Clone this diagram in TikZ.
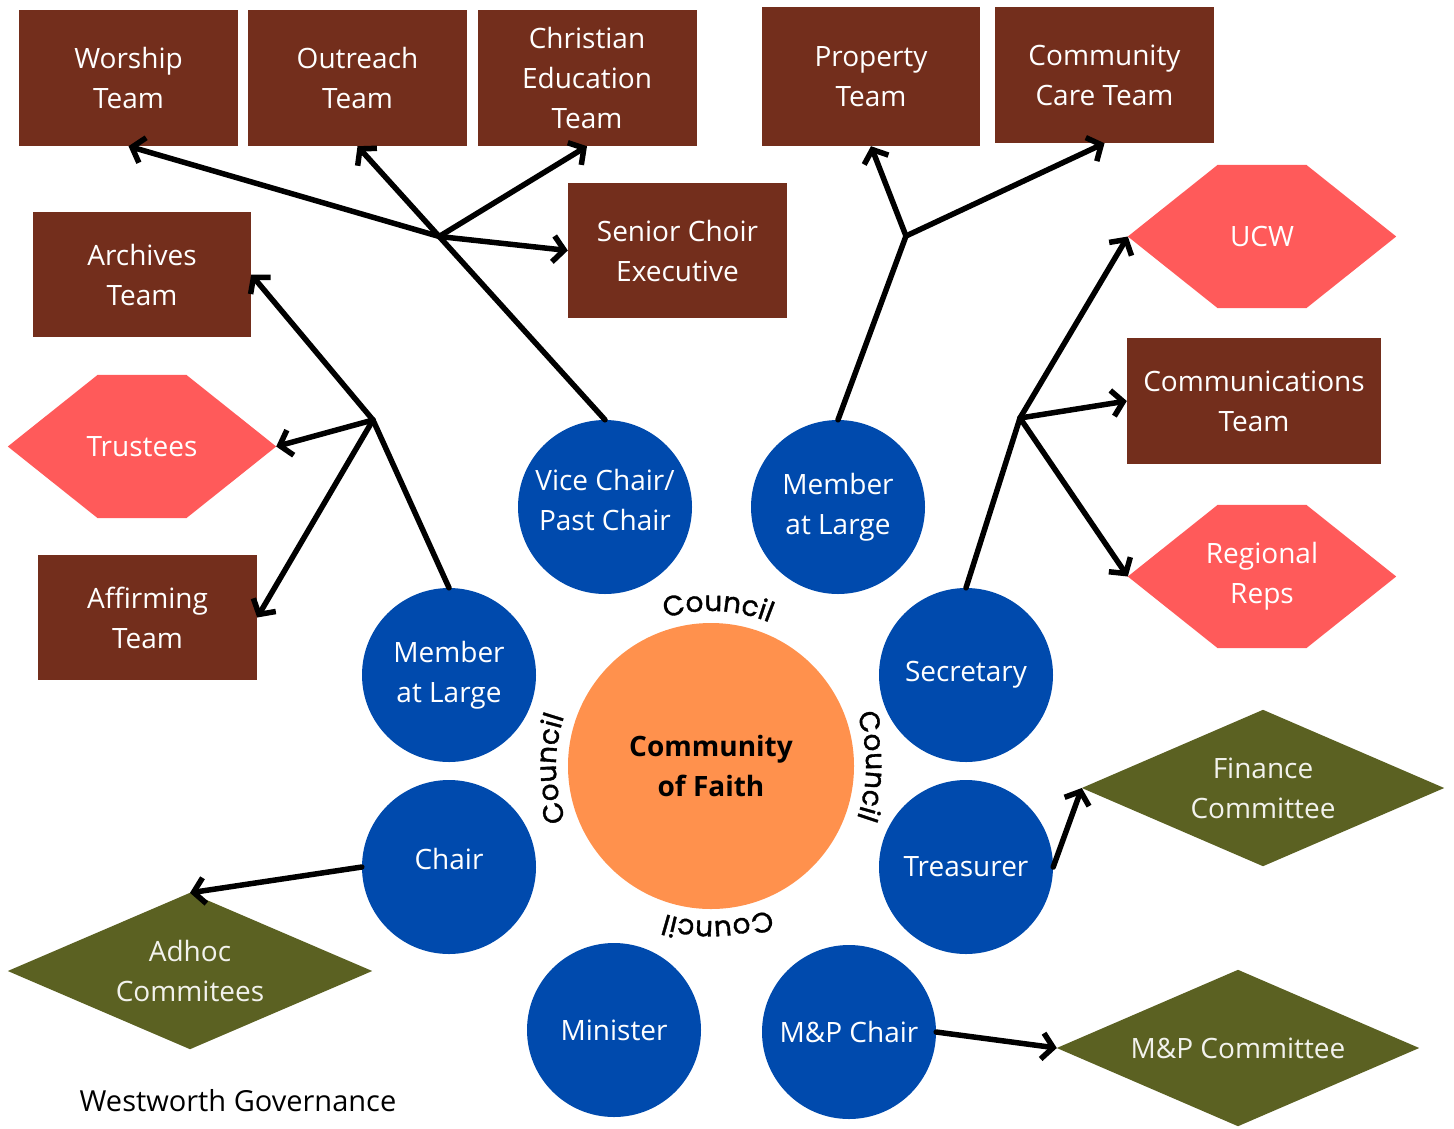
\documentclass[tikz,border=0pt]{standalone}
\usepackage{fontspec}
\setmainfont{Open Sans}
\newfontfamily\councilfont{Poppins}[FakeBold=1.2]
\usetikzlibrary{arrows.meta,calc,decorations.text,backgrounds}
\definecolor{boxbrown}{RGB}{115,46,28}
\definecolor{hexred}{RGB}{255,90,90}
\definecolor{cblue}{RGB}{0,74,173}
\definecolor{olive}{RGB}{91,97,34}
\definecolor{corange}{RGB}{255,145,77}
\newcommand\hexfill[1]{\fill[hexred] (#1.west) -- ($(#1.north west)!0.335!(#1.north east)$) -- ($(#1.north west)!0.665!(#1.north east)$) -- (#1.east) -- ($(#1.south west)!0.665!(#1.south east)$) -- ($(#1.south west)!0.335!(#1.south east)$) -- cycle;}
\newcommand\diafill[1]{\fill[olive] (#1.west) -- (#1.north) -- (#1.east) -- (#1.south) -- cycle;}
\begin{document}
\begin{tikzpicture}[x=1pt,y=-1pt,
  lbl/.style={font=\fontsize{28}{40}\selectfont, align=center, inner sep=0pt},
  team/.style={lbl, rectangle, fill=boxbrown, text=white, minimum width=219pt, minimum height=136pt},
  member/.style={lbl, circle, fill=cblue, text=white, minimum size=174pt},
  hexframe/.style={lbl, rectangle, text=white, minimum width=268pt, minimum height=143pt},
  diaframe/.style={lbl, rectangle, text=white!92!olive, minimum width=362pt, minimum height=156pt},
  link/.style={line width=5.5pt, line cap=round, line join=round},
  arr/.style={link, -{Straight Barb[length=11pt,width=26pt]}},
  council/.style={decorate,
     decoration={text along path, text align=center, text={Council}}}
]
\useasboundingbox (0,0) rectangle (1454,1128);

% top row of teams
\node[team] (wor) at (128.5,78) {Worship\\Team};
\node[team] (out) at (357.5,78) {Outreach\\Team};
\node[team] (ced) at (587,78) {Christian\\Education\\Team};
\node[team, minimum width=218pt, minimum height=139pt] (prop) at (871,76.5) {Property\\Team};
\node[team] (care) at (1104.5,75) {Community\\Care Team};
\node[team, minimum height=135pt] (sce) at (677.5,250.5) {Senior Choir\\Executive};
\node[team, minimum width=218pt, minimum height=125pt] (arch) at (142,274.5) {Archives\\Team};
\node[team, minimum height=125pt] (aff) at (147.5,617.5) {Affirming\\Team};
\node[team, minimum width=254pt, minimum height=126pt] (comm) at (1254,401) {Communications\\Team};

% hexagons
\node[hexframe] (ucw) at (1262,236.5) {UCW};
\node[hexframe] (reg) at (1262,576.5) {Regional\\Reps};
\node[hexframe] (tru) at (142,446.5) {Trustees};

% diamonds
\node[diaframe] (fin) at (1263,788) {Finance\\Committee};
\node[diaframe, minimum width=362pt] (mpc) at (1238,1048) {M\&P Committee};
\node[diaframe, minimum width=364pt] (adh) at (190,971) {Adhoc\\Commitees};

\begin{scope}[on background layer]
\hexfill{ucw}
\hexfill{reg}
\hexfill{tru}
\diafill{fin}
\diafill{mpc}
\diafill{adh}
\end{scope}

% council circles
\node[lbl, circle, fill=corange, minimum size=286pt, font=\bfseries\fontsize{28}{40}\selectfont] (cof) at (711,766) {Community\\of Faith};
\node[member] (vc) at (605,507) {};
\node[lbl, text=white] (vct) at (605,500) {Vice Chair/\\Past Chair};
\node[member] (malr) at (838,507) {Member\\at Large};
\node[member] (mall) at (449,675) {Member\\at Large};
\node[member] (sec) at (966,675) {Secretary};
\node[member] (chair) at (449,867) {};
\node[lbl, text=white] (chairt) at (449,859) {Chair};
\node[member] (tre) at (966,867) {Treasurer};
\node[member] (mini) at (614,1030) {Minister};
\node[member] (mpch) at (849,1032) {M\&P Chair};

% council labels around the centre
{\councilfont\fontsize{28}{28}\selectfont
\path[council] ($(cof)+(117.5:155pt)$) arc[start angle=117.5, end angle=57.5, radius=155pt];
\path[council] ($(cof)+(211:155pt)$) arc[start angle=211, end angle=151, radius=155pt];
\path[council] ($(cof)+(30:155pt)$) arc[start angle=30, end angle=-30, radius=155pt];
\path[council] ($(cof)+(302.5:155pt)$) arc[start angle=302.5, end angle=242.5, radius=155pt];
}

% hubs
\coordinate (hub1) at ($(vc.north)!0.67!(out.south)$);
\coordinate (hub2) at (373,420);
\coordinate (hub3) at (906,236);
\coordinate (hub4) at (1020,418);

% connectors
\draw[arr] (vc.north) -- (out.south);
\draw[arr] (hub1) -- (wor.south);
\draw[arr] (hub1) -- (ced.south);
\draw[arr] (hub1) -- (sce.west);

\draw[link] (mall.north) -- (hub2);
\draw[arr] (hub2) -- (arch.east);
\draw[arr] (hub2) -- (tru.east);
\draw[arr] (hub2) -- (aff.east);

\draw[link] (malr.north) -- (hub3);
\draw[arr] (hub3) -- (prop.south);
\draw[arr] (hub3) -- (care.south);

\draw[link] (sec.north) -- (hub4);
\draw[arr] (hub4) -- (ucw.west);
\draw[arr] (hub4) -- (comm.west);
\draw[arr] (hub4) -- (reg.west);

\draw[arr] (tre.east) -- (fin.west);
\draw[arr] (mpch.east) -- (mpc.west);
\draw[arr] (chair.west) -- (adh.north);

% caption
\node[font=\fontsize{29}{35}\selectfont, inner sep=0pt] (cap) at (238,1101) {Westworth Governance};
\end{tikzpicture}
\end{document}
